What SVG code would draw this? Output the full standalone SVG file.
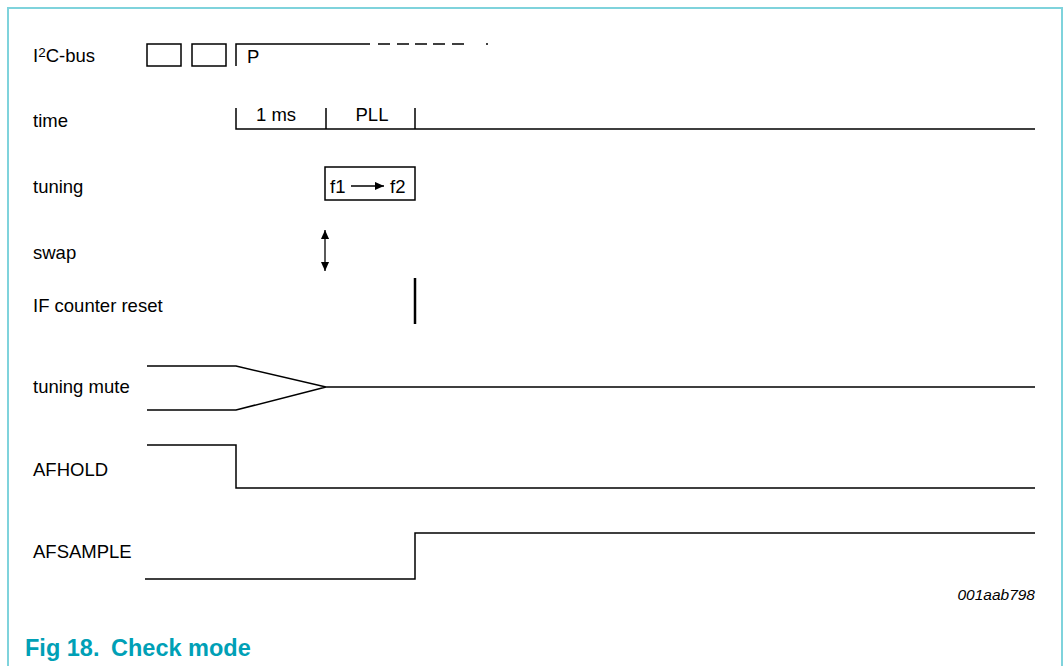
<svg xmlns="http://www.w3.org/2000/svg" width="1063" height="666" viewBox="0 0 1063 666">
<style>
text{font-family:"Liberation Sans",Arial,sans-serif;fill:#000}
.lbl{font-size:18.5px}
.sig{fill:none;stroke:#000;stroke-width:1.5}
.frame{fill:none;stroke:#7fd3dc;stroke-width:2}
</style>
<defs>
<marker id="ah" viewBox="0 0 10 10" refX="10" refY="5" markerWidth="11" markerHeight="9" markerUnits="userSpaceOnUse" orient="auto-start-reverse">
<path d="M0,0.5 L10,5 L0,9.5 Z" fill="#000"/>
</marker>
</defs>
<rect width="1063" height="666" fill="#fff"/>
<path class="frame" d="M8,666 V8 H1062 V666"/>
<g id="labels">
<text class="lbl" x="33" y="62">I<tspan font-size="13.5" dy="-5">2</tspan><tspan dy="5">C-bus</tspan></text>
<text class="lbl" x="33" y="127">time</text>
<text class="lbl" x="33" y="193">tuning</text>
<text class="lbl" x="33" y="259">swap</text>
<text class="lbl" x="33" y="312">IF counter reset</text>
<text class="lbl" x="33" y="393">tuning mute</text>
<text class="lbl" x="33" y="476">AFHOLD</text>
<text class="lbl" x="33" y="558">AFSAMPLE</text>
</g>
<g id="i2c">
<rect class="sig" x="147" y="44" width="34" height="22"/>
<rect class="sig" x="192" y="44" width="34" height="22"/>
<path class="sig" d="M236,66 V44 H370"/>
<path class="sig" d="M378,44 H390 M397,44 H409 M415,44 H427 M433,44 H445 M452,44 H464 M486,44 H488"/>
<text class="lbl" x="247" y="63">P</text>
</g>
<g id="time">
<path class="sig" d="M236,108 V129 H1035 M326,108 V129 M415,108 V129"/>
<text class="lbl" x="276" y="121" text-anchor="middle">1 ms</text>
<text class="lbl" x="372" y="121" text-anchor="middle">PLL</text>
</g>
<g id="tuning">
<rect class="sig" x="325" y="167" width="90" height="33"/>
<text class="lbl" x="330" y="193">f1</text>
<text class="lbl" x="390" y="193">f2</text>
</g>
<g id="swap"></g>
<g id="ifreset">
<line x1="415" y1="278" x2="415" y2="324" stroke="#000" stroke-width="2.5"/>
</g>
<g id="tuningmute">
<path class="sig" d="M147,366 H236 L326,387 H1035 M147,410 H236 L326,387"/>
</g>
<g id="afhold">
<path class="sig" d="M147,445 H236 V488 H1035"/>
</g>
<g id="afsample">
<path class="sig" d="M145,579 H415 V533 H1035"/>
</g>
<g id="connectors">
<line x1="351" y1="186" x2="384" y2="186" stroke="#000" stroke-width="1.3" marker-end="url(#ah)"/>
<line x1="325" y1="230" x2="325" y2="271" stroke="#000" stroke-width="1.3" marker-start="url(#ah)" marker-end="url(#ah)"/>
</g>
<text x="1035" y="600" text-anchor="end" font-size="15.5" font-style="italic">001aab798</text>
<text x="25" y="656" font-size="23.5" font-weight="bold" style="fill:#00a0b6">Fig 18.<tspan x="111">Check mode</tspan></text>
</svg>
